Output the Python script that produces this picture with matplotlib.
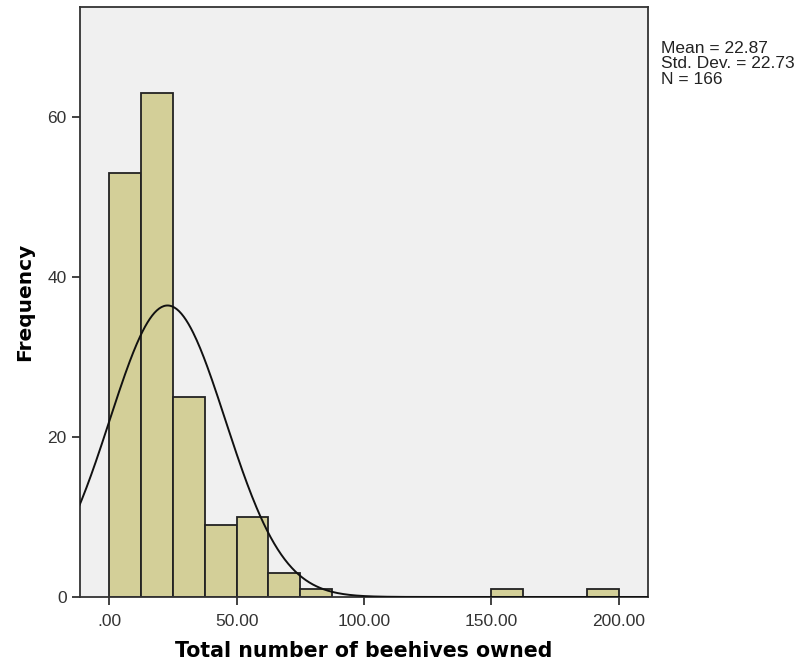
import numpy as np
import matplotlib
matplotlib.use("Agg")
import matplotlib.pyplot as plt

# histogram data (bin width 12.5)
bin_edges = [0, 12.5, 25, 37.5, 50, 62.5, 75, 87.5, 100, 112.5, 125, 137.5, 150, 162.5, 175, 187.5, 200]
counts = [53, 63, 25, 9, 10, 3, 1, 0, 0, 0, 0, 0, 1, 0, 0, 1]
mean = 22.87
std = 22.73
n = 166
xticks = [0, 50, 100, 150, 200]
xtick_labels = [".00", "50.00", "100.00", "150.00", "200.00"]
yticks = [0, 20, 40, 60]

plt.rcParams['font.family'] = ['Liberation Sans', 'DejaVu Sans']

fig = plt.figure(figsize=(8, 6.7), dpi=100)
ax = fig.add_axes([0.1, 0.109, 0.71, 0.881])
ax.set_facecolor("#f0f0f0")

lefts = np.array(bin_edges[:-1])
widths = np.diff(bin_edges)
heights = np.array(counts)
keep = heights > 0
ax.bar(lefts[keep], heights[keep], width=widths[keep], align="edge",
       color="#d3cf98", edgecolor="#222222", linewidth=1.3, zorder=2)

# normal curve scaled to counts
xs = np.linspace(-15, 215, 500)
scale = n * 12.5
ys = scale / (std * np.sqrt(2 * np.pi)) * np.exp(-0.5 * ((xs - mean) / std) ** 2)
ax.plot(xs, ys, color="#111111", linewidth=1.4, zorder=3)

ax.set_xlim(-11.5, 211.5)
ax.set_ylim(0, 73.75)
ax.set_xticks(xticks)
ax.set_xticklabels(xtick_labels)
ax.set_yticks(yticks)
ax.tick_params(axis="both", direction="out", length=6, width=1.3, labelsize=12.5, colors="#333333")
ax.tick_params(axis="x", pad=6)
for s in ax.spines.values():
    s.set_linewidth(1.3)
    s.set_color("#333333")

ax.set_xlabel("Total number of beehives owned", fontsize=14.8, fontweight="bold",
              family="DejaVu Sans", labelpad=9)
ax.set_ylabel("Frequency", fontsize=14.5, fontweight="bold", family="DejaVu Sans", labelpad=10)

fig.text(0.826, 0.939, "Mean = 22.87\nStd. Dev. = 22.73\nN = 166", fontsize=12.5,
         va="top", ha="left", linespacing=1.05, color="#222222")

fig.savefig("out.png", dpi=100)
